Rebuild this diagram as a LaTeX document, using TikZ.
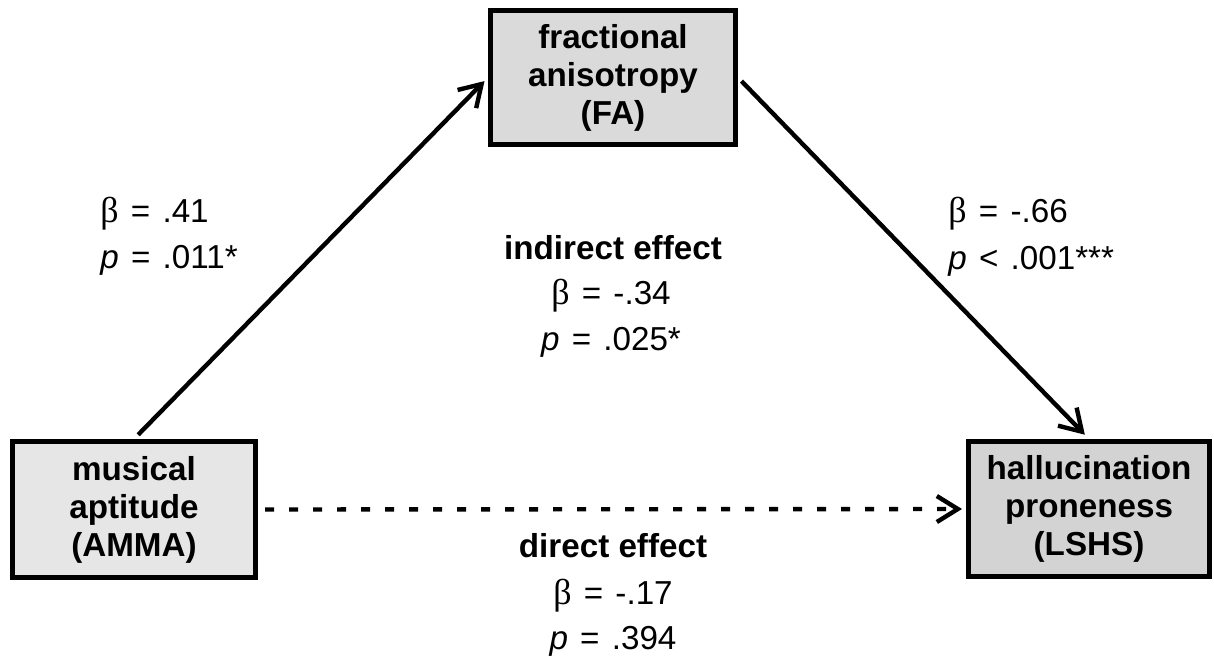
\documentclass[tikz,border=0pt]{standalone}
\usepackage{fontspec}
\setmainfont{Liberation Sans}
\newfontfamily\grkfont{Liberation Serif}
\usetikzlibrary{arrows.meta}
\definecolor{boxlight}{HTML}{E6E6E6}
\definecolor{boxmid}{HTML}{DADADA}
\definecolor{boxdark}{HTML}{D3D3D3}
\newcommand{\bta}{{\grkfont\fontsize{18}{18}\selectfont β}}
\newcommand{\rel}[1]{\hspace{1.5pt}#1\hspace{1.5pt}}
\tikzset{
  var/.style  ={draw,line width=2.5pt,align=center,inner sep=0pt,
                font=\bfseries\fontsize{16.6}{19}\selectfont},
  stat/.style ={inner sep=0pt,font=\fontsize{16.6}{18}\selectfont},
  hdr/.style  ={stat,font=\bfseries\fontsize{16.6}{18}\selectfont},
  flow/.style ={-{Straight Barb[length=10.5pt,width=13pt]},line width=2.2pt},
  dflow/.style={flow,dash pattern=on 4.5pt off 7.5pt},
}
\begin{document}
\begin{tikzpicture}[x=0.5pt,y=-0.5pt]
  \useasboundingbox (0,0) rectangle (1214,664);
  % variables
  \node[var,fill=boxmid,minimum width=122.5pt,minimum height=67pt]
    (fa) at (613,77.5) {fractional\\anisotropy\\(FA)};
  \node[var,fill=boxlight,minimum width=121.5pt,minimum height=68pt]
    (amma) at (134,509.5) {musical\\aptitude\\(AMMA)};
  \node[var,fill=boxdark,minimum width=120.5pt,minimum height=67.5pt]
    (lshs) at (1089,509) {hallucination\\proneness\\(LSHS)};
  % paths
  \draw[flow,shorten <=3pt,shorten >=2.5pt] (amma.north) -- (fa.west);
  \draw[flow,shorten <=2.5pt,shorten >=3pt] (fa.east) -- (lshs.north);
  \draw[dflow,shorten <=3.5pt,shorten >=2pt] (amma.east) -- (lshs.west);
  % path a
  \node[stat,anchor=base west] (aB) at (100,222) {\bta{} \rel{=} .41};
  \node[stat,anchor=base west] (aP) at (100,268) {\textit{p} \rel{=} .011*};
  % path b
  \node[stat,anchor=base west] (bB) at (948,222) {\bta{} \rel{=} -.66};
  \node[stat,anchor=base west] (bP) at (948,269) {\textit{p} \rel{<} .001***};
  % indirect effect
  \node[hdr,anchor=base] (ind) at (613,259) {indirect effect};
  \node[stat,anchor=base] (indB) at (611,304) {\bta{} \rel{=} -.34};
  \node[stat,anchor=base] (indP) at (611,350) {\textit{p} \rel{=} .025*};
  % direct effect
  \node[hdr,anchor=base] (dir) at (613,557) {direct effect};
  \node[stat,anchor=base] (dirB) at (613,604) {\bta{} \rel{=} -.17};
  \node[stat,anchor=base] (dirP) at (613,649) {\textit{p} \rel{=} .394};
\end{tikzpicture}
\end{document}
